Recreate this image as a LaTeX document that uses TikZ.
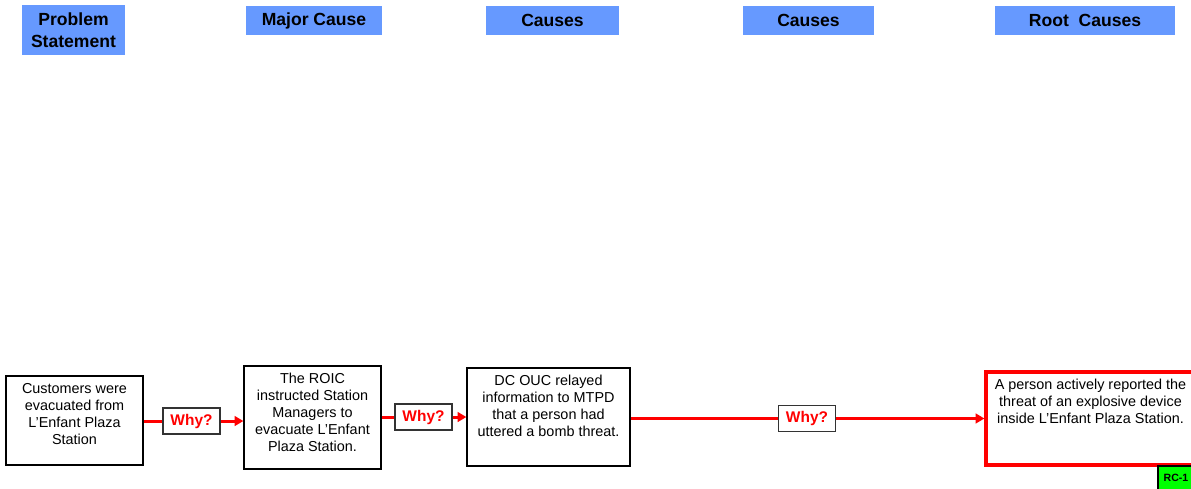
\documentclass[tikz,border=0pt]{standalone}
\usepackage{fontspec}
\setmainfont{Liberation Sans}
\usetikzlibrary{arrows.meta}

\definecolor{headblue}{HTML}{6699FF}
\definecolor{rcgreen}{HTML}{00FF00}

\tikzset{
	header/.style={fill=headblue, inner sep=0pt, align=center, font=\fontsize{10}{12.5}\selectfont\bfseries},
	causebox/.style={draw=black, line width=0.7pt, inner sep=0pt},
	rootbox/.style={draw=red, line width=1.8pt, inner sep=0pt},
	whybox/.style={draw=black!80, line width=0.7pt, fill=white, inner sep=0pt, minimum width=1.14cm, minimum height=0.52cm, text=red, font=\fontsize{8.8}{10}\selectfont\bfseries},
	whyline/.style={red, line width=1.7pt},
	whyarrow/.style={whyline, -{Triangle[length=5pt,width=5.5pt]}},
	rctag/.style={draw=black, line width=0.6pt, fill=rcgreen, inner sep=0pt, minimum width=0.72cm, minimum height=0.48cm, font=\fontsize{6}{7}\selectfont\bfseries}
}
\newcommand{\boxtext}[3]{\parbox[c][#2][t]{#1}{\centering\fontsize{8.2}{9.7}\selectfont\vspace{4pt}#3}}

\begin{document}
\begin{tikzpicture}[x=0.02cm,y=-0.02cm]
		\useasboundingbox (0,0) rectangle (1191,488);
		
		% column headers
		\node at (73.5,30) (hps) [header, minimum width=2.06cm, minimum height=1.0cm] {Problem\\Statement};
		\node at (314,20.5) (hmc) [header, minimum width=2.72cm, minimum height=0.58cm] {Major Cause};
		\node at (552.5,20.5) (hc1) [header, minimum width=2.66cm, minimum height=0.58cm] {Causes};
		\node at (808.5,20.5) (hc2) [header, minimum width=2.62cm, minimum height=0.58cm] {Causes};
		\node at (1085,20.5) (hrc) [header, minimum width=3.6cm, minimum height=0.58cm] {Root\ \ Causes};
		
		% why chain
		\node at (74.5,420.5) (ps) [causebox] {\boxtext{2.74cm}{1.78cm}{Customers were\\evacuated from\\L’Enfant Plaza\\Station}};
		\node at (312.5,417.5) (mc) [causebox] {\boxtext{2.74cm}{2.06cm}{The ROIC\\instructed Station\\Managers to\\evacuate L’Enfant\\Plaza Station.}};
		\node at (548.5,417) (c1) [causebox] {\boxtext{3.26cm}{1.96cm}{DC OUC relayed\\information to MTPD\\that a person had\\uttered a bomb threat.}};
		\node at (1090.5,418.5) (rc1) [rootbox] {\boxtext{4.18cm}{1.86cm}{A person actively reported the\\threat of an explosive device\\inside L’Enfant Plaza Station.}};
		
		\node at (191.5,421) (why1) [whybox] {Why?};
		\node at (423.5,417) (why2) [whybox] {Why?};
		\node at (807,418.5) (why3) [whybox] {Why?};
		
		\draw[whyline] (ps.east |- why1) -- (why1.west);
		\draw[whyarrow] (why1.east) -- (mc.west |- why1);
		\draw[whyline] (mc.east |- why2) -- (why2.west);
		\draw[whyarrow] (why2.east) -- (c1.west |- why2);
		\draw[whyline] (c1.east |- why3) -- (why3.west);
		\draw[whyarrow] (why3.east) -- (rc1.west |- why3);
		
		% tag sits on top of the root box edge
		\node at (1176,478) (tag) [rctag] {RC-1};
\end{tikzpicture}
\end{document}
